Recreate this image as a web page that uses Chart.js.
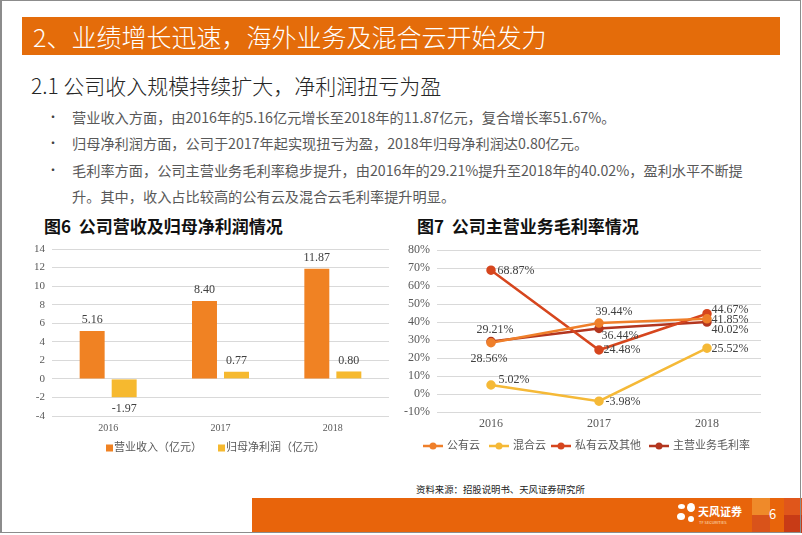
<!DOCTYPE html>
<html>
<head>
<meta charset="utf-8">
<script src="https://cdn.jsdelivr.net/npm/chart.js"></script>
<style>
body { margin: 0; background: #fff; }
#page { position: relative; width: 802px; height: 535px; overflow: hidden; background: #fff;
  font-family: "Noto Sans CJK SC", "Noto Sans", sans-serif; }
#frame { position: absolute; left: 0; top: 0; width: 798px; height: 531px;
  border: 1px solid #8c8c8c; border-left-width: 2px; pointer-events: none; }
#titleBar { position: absolute; left: 22px; top: 17px; width: 758px; height: 38px; background: #e46c0a;
  color: #fff; font-size: 25px; font-weight: 300; line-height: 38px; padding-left: 11px; box-sizing: border-box; }
#subTitle { position: absolute; left: 31px; top: 70px; font-size: 21px; font-weight: 300; color: #262626; }
.bullet { position: absolute; left: 47px; height: 20px; font-size: 14.2px; line-height: 20px; color: #595959; white-space: nowrap; }
.bullet.dot::before { content: "•"; position: absolute; left: 0; font-size: 12px; top: 0; color: #404040; }
.bullet span { position: absolute; left: 25px; top: 0; }
.figTitle { position: absolute; top: 215px; height: 22px; line-height: 22px; font-size: 17px; font-weight: bold; color: #111; white-space: nowrap; }
#source { position: absolute; left: 416px; top: 482px; font-size: 9.4px; color: #222; white-space: nowrap; }
#footer { position: absolute; left: 252px; top: 498px; width: 550px; height: 35px; background: #e8640b; }
.sq { position: absolute; }
#pageNo { position: absolute; left: 769px; top: 504px; color: #fff; font-size: 13px; }
#logoText { position: absolute; left: 698px; top: 503px; color: #fff; font-size: 11px; font-weight: bold; }
#logoSub { position: absolute; left: 699px; top: 519px; color: #fde3cc; font-size: 4px; }
.petal { position: absolute; background: #fff; border-radius: 50%; }
#c1 { position: absolute; left: 20px; top: 228px; width: 380px; height: 232px; z-index: 5; }
#c2 { position: absolute; left: 400px; top: 236px; width: 392px; height: 224px; z-index: 5; }
</style>
</head>
<body>
<div id="page">
  <div id="titleBar">2、业绩增长迅速，海外业务及混合云开始发力</div>
  <div id="subTitle">2.1 公司收入规模持续扩大，净利润扭亏为盈</div>
  <div class="bullet dot" style="top:107px"><span>营业收入方面，由2016年的5.16亿元增长至2018年的11.87亿元，复合增长率51.67%。</span></div>
  <div class="bullet dot" style="top:133px"><span>归母净利润方面，公司于2017年起实现扭亏为盈，2018年归母净利润达0.80亿元。</span></div>
  <div class="bullet dot" style="top:160px"><span>毛利率方面，公司主营业务毛利率稳步提升，由2016年的29.21%提升至2018年的40.02%，盈利水平不断提</span></div>
  <div class="bullet" style="top:186px"><span>升。其中，收入占比较高的公有云及混合云毛利率提升明显。</span></div>
  <div class="figTitle" style="left:44px">图6&nbsp;&nbsp;公司营收及归母净利润情况</div>
  <div class="figTitle" style="left:417px">图7&nbsp;&nbsp;公司主营业务毛利率情况</div>

  <div id="source">资料来源：招股说明书、天风证券研究所</div>

  <div id="footer"></div>
  <div class="sq" style="left:752px;top:498px;width:18px;height:17px;background:#ef8a2a"></div>
  <div class="sq" style="left:752px;top:515px;width:18px;height:18px;background:#d9531a"></div>
  <div class="sq" style="left:784px;top:498px;width:18px;height:17px;background:#e0561b"></div>
  <div class="sq" style="left:784px;top:515px;width:18px;height:18px;background:#c83b16"></div>
  <div class="petal" style="left:678px;top:504px;width:7px;height:5px"></div>
  <div class="petal" style="left:687px;top:503px;width:8px;height:9px"></div>
  <div class="petal" style="left:677px;top:513px;width:8px;height:7px"></div>
  <div class="petal" style="left:688px;top:516px;width:6px;height:6px"></div>
  <div id="logoText">天风证券</div>
  <div id="logoSub">TF SECURITIES</div>
  <div id="pageNo">6</div>
  <div id="frame"></div>

  <div id="c1"><canvas id="chart1"></canvas></div>
  <div id="c2"><canvas id="chart2"></canvas></div>
</div>

<script>
const years = ["2016", "2017", "2018"];

// 图6 (亿元)
const revenue = [5.16, 8.40, 11.87];
const netProfit = [-1.97, 0.77, 0.80];
const revTicks = [-4, -2, 0, 2, 4, 6, 8, 10, 12, 14];

// 图7 (%)
const publicCloud = [28.56, 39.44, 41.85];
const hybridCloud = [5.02, -3.98, 25.52];
const privateCloud = [68.87, 24.48, 44.67];
const mainMargin = [29.21, 36.44, 40.02];
const marginTicks = [-10, 0, 10, 20, 30, 40, 50, 60, 70, 80];

const serif = "'Liberation Serif', 'Noto Sans CJK SC', serif";
const textGrey = "#404040";

// value labels beside each bar / point; offsets come from plugin options
const valueLabels = {
  id: "valueLabels",
  afterDatasetsDraw(chart, args, opts) {
    const ctx = chart.ctx;
    ctx.save();
    ctx.fillStyle = textGrey;
    ctx.textAlign = "center";
    ctx.textBaseline = "middle";
    ctx.font = opts.font;
    chart.data.datasets.forEach((ds, i) => {
      const meta = chart.getDatasetMeta(i);
      meta.data.forEach((el, j) => {
        const v = ds.data[j];
        let dx = 0, dy = v >= 0 ? -11 : 12;
        if (opts.offsets) {
          dx = opts.offsets[i][j][0];
          dy = opts.offsets[i][j][1];
        }
        ctx.fillText(v.toFixed(2) + opts.suffix, el.x + dx, el.y + dy);
      });
    });
    ctx.restore();
  }
};

// one-row legend below the axis
const rowLegend = {
  id: "rowLegend",
  afterDraw(chart, args, opts) {
    const ctx = chart.ctx;
    ctx.save();
    ctx.font = opts.font;
    ctx.textBaseline = "middle";
    chart.data.datasets.forEach((ds, i) => {
      const lx = opts.left[i], ly = opts.mid;
      const color = ds.backgroundColor;
      if (opts.marker === "box") {
        ctx.fillStyle = color;
        ctx.fillRect(lx, ly - 3.5, 7, 7);
        ctx.fillStyle = "#595959";
        ctx.fillText(ds.label, lx + 8, ly + 0.5);
      } else {
        ctx.strokeStyle = color;
        ctx.lineWidth = 2.5;
        ctx.beginPath(); ctx.moveTo(lx, ly); ctx.lineTo(lx + 20, ly); ctx.stroke();
        ctx.fillStyle = color;
        ctx.beginPath(); ctx.arc(lx + 10, ly, 3.5, 0, Math.PI * 2); ctx.fill();
        ctx.fillStyle = "#595959";
        ctx.fillText(ds.label, lx + 24, ly + 0.5);
      }
    });
    ctx.restore();
  }
};

function fixedTicks(list) {
  return function (s) { s.ticks = list.map(v => ({ value: v })); };
}

new Chart("chart1", {
  type: "bar",
  data: {
    labels: years,
    datasets: [
      { label: "营业收入（亿元）", data: revenue, backgroundColor: "#f08223",
        categoryPercentage: 0.57, barPercentage: 0.78 },
      { label: "归母净利润（亿元）", data: netProfit, backgroundColor: "#f6b92f",
        categoryPercentage: 0.57, barPercentage: 0.78 }
    ]
  },
  options: {
    responsive: true,
    maintainAspectRatio: false,
    animation: false,
    layout: { padding: { top: 21, right: 11, left: 0, bottom: 24 } },
    plugins: {
      legend: { display: false },
      tooltip: { enabled: false },
      valueLabels: { font: "12px " + serif, suffix: "" },
      rowLegend: { marker: "box", left: [86, 198], mid: 220, font: "11px " + serif }
    },
    scales: {
      x: {
        grid: { display: false, drawTicks: false }, border: { display: false },
        ticks: { color: "#595959", font: { family: serif, size: 10 }, padding: 6 },
        afterFit(s) { s.height = 20; }
      },
      y: {
        min: -4, max: 14,
        afterBuildTicks: fixedTicks(revTicks),
        ticks: { autoSkip: false, color: "#595959", font: { family: serif, size: 11 }, padding: 7 },
        grid: { color: "#d9d9d9", drawTicks: false }, border: { display: false },
        afterFit(s) { s.width = 32; }
      }
    }
  },
  plugins: [valueLabels, rowLegend]
});

const lineColors = ["#ef7f2a", "#f5b937", "#d6461e", "#b3361f"];
const lineNames = ["公有云", "混合云", "私有云及其他", "主营业务毛利率"];
const lineData = [publicCloud, hybridCloud, privateCloud, mainMargin];
const lineOffsets = [
  [[-2, 16], [15, -11], [23, 1]],
  [[23, -5], [24, 1], [23, 1]],
  [[25, 1], [23, 0], [23, -4]],
  [[4, -12], [21, 7], [23, 8]]
];

new Chart("chart2", {
  type: "line",
  data: {
    labels: years,
    datasets: lineData.map((d, i) => ({
      label: lineNames[i],
      data: d,
      borderColor: lineColors[i],
      backgroundColor: lineColors[i],
      borderWidth: 2.5,
      pointRadius: 3.5
    }))
  },
  options: {
    responsive: true,
    maintainAspectRatio: false,
    animation: false,
    layout: { padding: { top: 11, right: 31, left: 0, bottom: 28 } },
    plugins: {
      legend: { display: false },
      tooltip: { enabled: false },
      valueLabels: { font: "12px " + serif, suffix: "%", offsets: lineOffsets },
      rowLegend: { marker: "line", left: [23, 89, 151, 249], mid: 210, font: "11px " + serif }
    },
    scales: {
      x: {
        offset: true,
        grid: { display: false, drawTicks: false }, border: { display: false },
        ticks: { color: "#595959", font: { family: serif, size: 12 }, padding: 5 },
        afterFit(s) { s.height = 20; }
      },
      y: {
        min: -10, max: 80,
        afterBuildTicks: fixedTicks(marginTicks),
        ticks: { autoSkip: false, color: "#595959", font: { family: serif, size: 12 }, padding: 7,
          callback: v => v + "%" },
        grid: { color: "#d9d9d9", drawTicks: false }, border: { display: false },
        afterFit(s) { s.width = 37; }
      }
    }
  },
  plugins: [valueLabels, rowLegend]
});
</script>
</body>
</html>
